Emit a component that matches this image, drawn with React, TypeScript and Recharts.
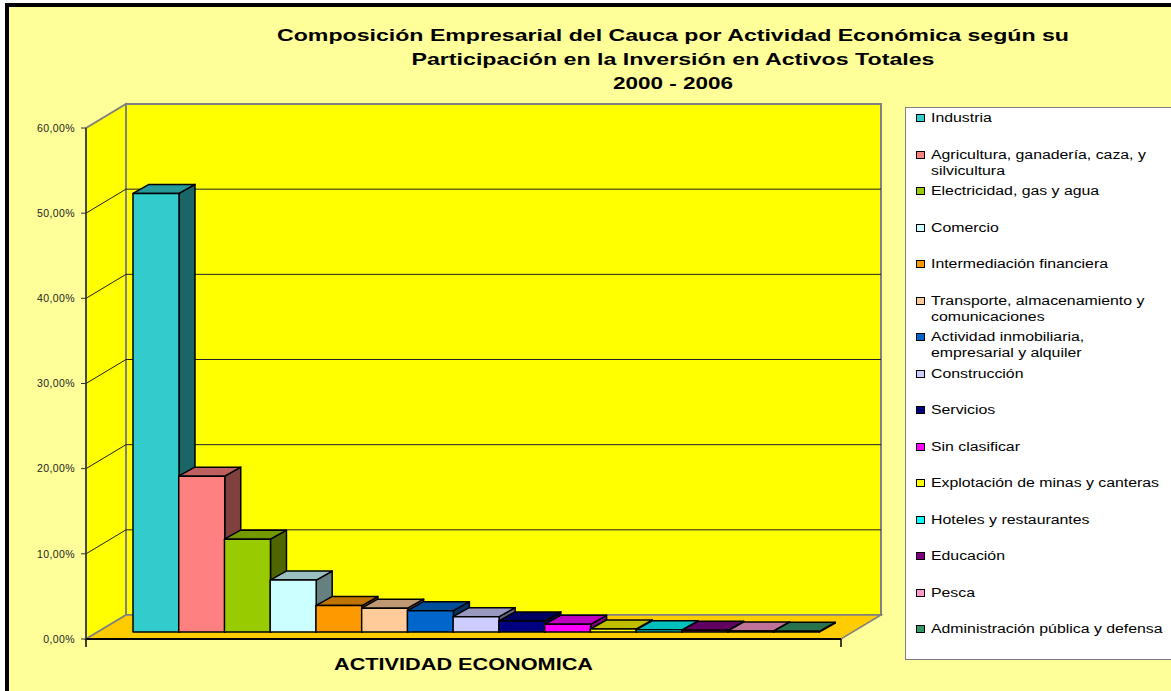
import React from "react";
import { BarChart, Bar, XAxis, YAxis, CartesianGrid, Legend } from "recharts";

// categories (legend order = bar order); "\n" marks where the legend wraps
const categories = [
  "Industria",
  "Agricultura, ganadería, caza, y\nsilvicultura",
  "Electricidad, gas y agua",
  "Comercio",
  "Intermediación financiera",
  "Transporte, almacenamiento y\ncomunicaciones",
  "Actividad inmobiliaria,\nempresarial y alquiler",
  "Construcción",
  "Servicios",
  "Sin clasificar",
  "Explotación de minas y canteras",
  "Hoteles y restaurantes",
  "Educación",
  "Pesca",
  "Administración pública y defensa",
];

// share of total assets investment, %
const shares = [51.5, 18.3, 10.9, 6.1, 3.1, 2.8, 2.5, 1.8, 1.3, 0.9, 0.35, 0.25, 0.2, 0.12, 0.08];

const barColors = [
  "#33CCCC", "#FF8080", "#99CC00", "#CCFFFF", "#FF9900",
  "#FFCC99", "#0066CC", "#CCCCFF", "#000080", "#FF00FF",
  "#FFFF00", "#00FFFF", "#800080", "#FF99CC", "#339966",
];

const yTicks = [0, 10, 20, 30, 40, 50, 60];

const titleLines = [
  "Composición Empresarial del Cauca por Actividad Económica según su",
  "Participación en la Inversión en Activos Totales",
  "2000 - 2006",
];
const titleWidths = [792, 523, 120];

const FONT = '"Liberation Sans", Arial, sans-serif';

// 3D projection: full depth of the box, and where the bars sit inside it
const DX = 40;
const DY = -24;
const BAR_OFF_X = 12;
const BAR_OFF_Y = -7;
const BAR_DX = 16;
const BAR_DY = -9;

const data = categories.map((name, i) => ({ name: name.replace("\n", " "), value: shares[i] }));

const shade = (hex: string, k: number) => {
  const n = parseInt(hex.slice(1), 16);
  const r = Math.round(((n >> 16) & 255) * k);
  const g = Math.round(((n >> 8) & 255) * k);
  const b = Math.round((n & 255) * k);
  return `rgb(${r},${g},${b})`;
};

const Bar3D = (props: any) => {
  const { x, y, width, height, index } = props;
  const c = barColors[index] || "#999";
  const fx = x + BAR_OFF_X;
  const fy = y + BAR_OFF_Y;
  const top = `${fx},${fy} ${fx + BAR_DX},${fy + BAR_DY} ${fx + width + BAR_DX},${fy + BAR_DY} ${fx + width},${fy}`;
  const side = `${fx + width},${fy} ${fx + width + BAR_DX},${fy + BAR_DY} ${fx + width + BAR_DX},${fy + BAR_DY + height} ${fx + width},${fy + height}`;
  return (
    <g stroke="#000" strokeWidth={1.5} strokeLinejoin="round">
      <polygon points={side} fill={shade(c, 0.5)} />
      <polygon points={top} fill={shade(c, 0.75)} />
      <rect x={fx} y={fy} width={width} height={Math.max(height, 0.5)} fill={c} />
    </g>
  );
};

// walls and floor, drawn once from the bottom grid line
const Walls = (p: any) => {
  const { x1, x2, y1 } = p;
  const top = p.y;
  const bottom = p.y + p.height;
  if (Math.abs(y1 - bottom) > 1) return <g key={p.key} />;
  return (
    <g key={p.key}>
      <rect x={x1 + DX} y={top + DY} width={x2 - x1} height={bottom - top} fill="#FFFF00" stroke="#808080" strokeWidth={2} />
      <polygon
        points={`${x1},${top} ${x1 + DX},${top + DY} ${x1 + DX},${bottom + DY} ${x1},${bottom}`}
        fill="#FFFF00"
        stroke="#808080"
        strokeWidth={2}
      />
      <polygon
        points={`${x1},${bottom} ${x2},${bottom} ${x2 + DX},${bottom + DY} ${x1 + DX},${bottom + DY}`}
        fill="#FFCC00"
        stroke="#808080"
        strokeWidth={1.5}
      />
      <line x1={x1} y1={bottom} x2={x2} y2={bottom} stroke="#000" strokeWidth={2} />
      <line x1={x1} y1={bottom} x2={x1} y2={bottom + 8} stroke="#000" strokeWidth={1.5} />
      <line x1={x2} y1={bottom} x2={x2} y2={bottom + 8} stroke="#000" strokeWidth={1.5} />
    </g>
  );
};

const GridLine = (p: any) => {
  const { x1, x2, y1 } = p;
  if (Math.abs(y1 - p.y) < 1 || Math.abs(y1 - (p.y + p.height)) < 1) return <g key={p.key} />;
  return (
    <g key={p.key} stroke="#222" strokeWidth={1}>
      <line x1={x1} y1={y1} x2={x1 + DX} y2={y1 + DY} />
      <line x1={x1 + DX} y1={y1 + DY} x2={x2 + DX} y2={y1 + DY} />
    </g>
  );
};

const AxisTitle = (props: any) => {
  const vb = props.viewBox || {};
  return (
    <text
      x={vb.x + vb.width / 2}
      y={vb.y + 31}
      textAnchor="middle"
      textLength={259}
      lengthAdjust="spacingAndGlyphs"
      style={{ fontFamily: FONT, fontWeight: "bold", fontSize: 17, fill: "#000" }}
    >
      ACTIVIDAD ECONOMICA
    </text>
  );
};

const LegendBox = () => (
  <div
    style={{
      width: 300,
      height: 553,
      background: "#fff",
      border: "1px solid #808080",
      boxSizing: "border-box",
      position: "relative",
      fontFamily: FONT,
      fontSize: 12,
      color: "#000",
    }}
  >
    {categories.map((c, i) => (
      <div key={c} style={{ position: "absolute", left: 10, top: 2 + i * 36.5, lineHeight: "16px", whiteSpace: "pre" }}>
        <span
          style={{
            position: "absolute",
            left: 0,
            top: 4,
            width: 7,
            height: 6,
            border: "1px solid #000",
            background: barColors[i],
          }}
        />
        <div style={{ marginLeft: 15, transform: "scaleX(1.32)", transformOrigin: "left" }}>{c}</div>
      </div>
    ))}
  </div>
);

export default function App() {
  return (
    <div style={{ position: "absolute", left: 0, top: 0, width: 1171, height: 691, overflow: "hidden", background: "#fff" }}>
      <div
        style={{
          position: "absolute",
          left: 5,
          top: 3,
          width: 1220,
          height: 740,
          background: "#FFFF99",
          border: "4px solid #000",
          boxSizing: "border-box",
        }}
      />
      <svg style={{ position: "absolute", left: 0, top: 0 }} width={1171} height={100}>
        {titleLines.map((t, i) => (
          <text
            key={t}
            x={673}
            y={40.7 + i * 24}
            textAnchor="middle"
            textLength={titleWidths[i]}
            lengthAdjust="spacingAndGlyphs"
            style={{ fontFamily: FONT, fontWeight: "bold", fontSize: 17, fill: "#000" }}
          >
            {t}
          </text>
        ))}
      </svg>
      <div style={{ position: "absolute", left: 0, top: 0 }}>
        <BarChart
          width={1171}
          height={691}
          data={data}
          barCategoryGap={0}
          margin={{ top: 128, right: 330, bottom: 12, left: 26 }}
        >
          <CartesianGrid vertical={false} stroke="none" horizontal={Walls} />
          <CartesianGrid vertical={false} horizontal={GridLine} />
          <XAxis
            dataKey="name"
            height={40}
            tick={false}
            tickLine={false}
            axisLine={false}
            padding={{ left: 35, right: 34 }}
            label={<AxisTitle />}
          />
          <YAxis
            width={60}
            domain={[0, 60]}
            ticks={yTicks}
            interval={0}
            tickSize={5}
            tickMargin={6}
            axisLine={{ stroke: "#333", strokeWidth: 1.5 }}
            tickLine={{ stroke: "#333" }}
            tick={{ fontSize: 10.5, fill: "#222", fontFamily: FONT, letterSpacing: 0.4 }}
            tickFormatter={(v: number) => v.toFixed(2).replace(".", ",") + "%"}
          />
          <Legend
            layout="vertical"
            align="center"
            verticalAlign="middle"
            wrapperStyle={{ left: 905, top: 107, width: 300, height: 553 }}
            content={() => <LegendBox />}
          />
          <Bar dataKey="value" shape={<Bar3D />} isAnimationActive={false} />
        </BarChart>
      </div>
    </div>
  );
}
